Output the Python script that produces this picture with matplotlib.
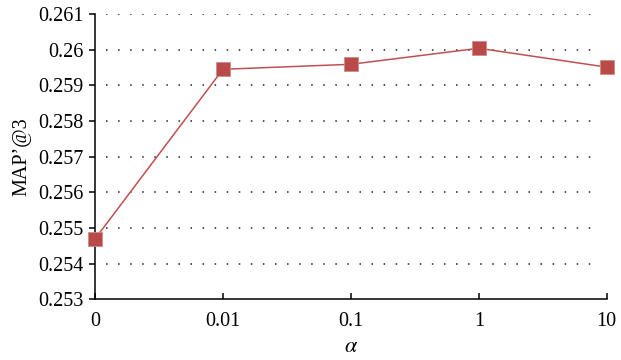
import matplotlib
matplotlib.use("Agg")
import matplotlib.pyplot as plt

alpha_labels = ["0", "0.01", "0.1", "1", "10"]
map3 = [0.25469, 0.25945, 0.25959, 0.26004, 0.25951]
y_ticks = [0.253, 0.254, 0.255, 0.256, 0.257, 0.258, 0.259, 0.26, 0.261]
y_tick_labels = ["0.253", "0.254", "0.255", "0.256", "0.257", "0.258", "0.259", "0.26", "0.261"]

plt.rcParams["font.family"] = ["Liberation Serif", "DejaVu Serif"]
plt.rcParams["mathtext.fontset"] = "stix"

fig = plt.figure(figsize=(6.21, 3.6), dpi=100)
ax = fig.add_axes([0.153, 0.169, 0.824, 0.792])

x = list(range(len(alpha_labels)))

# dotted horizontal guides
ax.hlines(y_ticks[1:], 0.085, 3.95, colors="#222222", linewidth=1.1,
          linestyles=[(0, (1, 6.9))], zorder=1)

ax.plot(x, map3, color="#C0504D", linewidth=1.1, marker="s", markersize=9.8,
        markerfacecolor="#B84A47", markeredgecolor="#D08A88", markeredgewidth=0.6,
        zorder=3, clip_on=False)

ax.set_xlim(0, 4)
ax.set_ylim(0.253, 0.261)
ax.set_xticks(x)
ax.set_xticklabels(alpha_labels)
ax.set_yticks(y_ticks)
ax.set_yticklabels(y_tick_labels)

for s in ["top", "right"]:
    ax.spines[s].set_visible(False)
for s in ["left", "bottom"]:
    ax.spines[s].set_linewidth(1.1)
    ax.spines[s].set_color("black")

ax.tick_params(axis="x", direction="in", length=4, width=1.1, labelsize=14.5, pad=9)
ax.tick_params(axis="y", direction="out", length=4, width=1.1, labelsize=14.5, pad=4)

ax.set_xlabel(r"$\alpha$", fontsize=16, labelpad=5)
ax.set_ylabel("MAP\u2019@3", fontsize=14.5, labelpad=5)

fig.savefig("out.png", dpi=100)
